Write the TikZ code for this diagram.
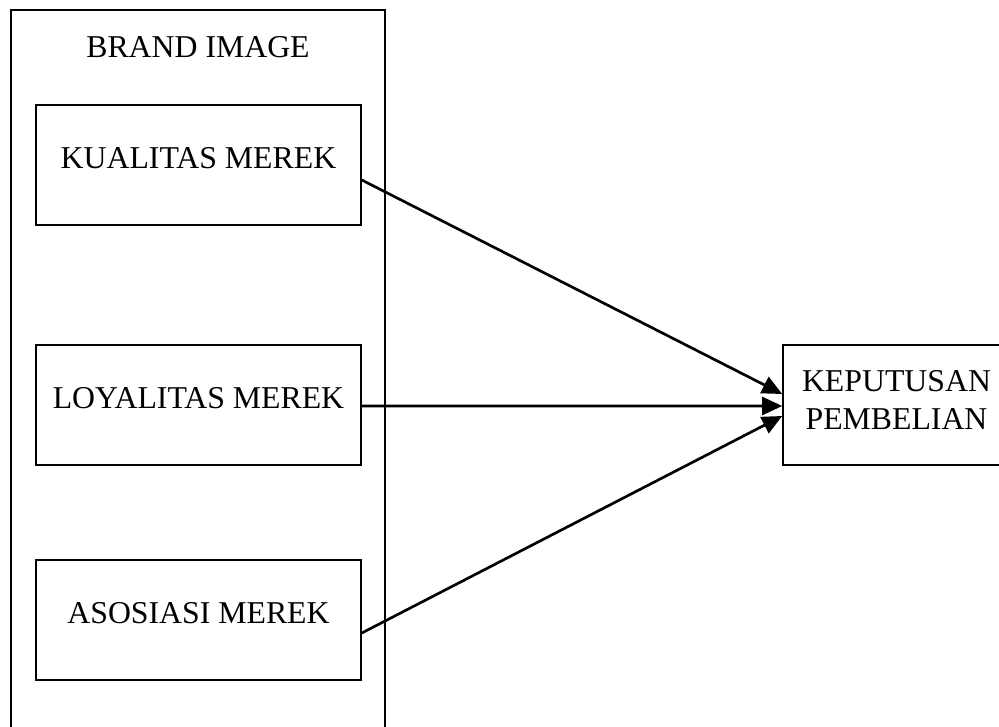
\documentclass[tikz,border=0pt]{standalone}
\usepackage{fontspec}
\setmainfont{Liberation Serif}
\usetikzlibrary{arrows.meta}

\begin{document}
\begin{tikzpicture}
  [x=0.025cm,y=-0.025cm,every node/.style={draw,line width=1.1pt,inner sep=0pt,
   font=\fontsize{22.6}{26.5}\selectfont}]
  \useasboundingbox (0,0) rectangle (999,726);
  \clip (0,0) rectangle (999,726);

  \node[anchor=base,minimum width=9.35cm,text height=1.175cm,text depth=17.5cm] (brand) at (198,57) {BRAND IMAGE};
  \node[anchor=base,minimum width=8.125cm,text height=1.575cm,text depth=1.425cm] (kualitas) at (198.5,168) {KUALITAS MEREK};
  \node[anchor=base,minimum width=8.125cm,text height=1.575cm,text depth=1.425cm] (loyalitas) at (198.5,408) {LOYALITAS MEREK};
  \node[anchor=base,minimum width=8.125cm,text height=1.575cm,text depth=1.425cm] (asosiasi) at (198.5,623) {ASOSIASI MEREK};
  \node[align=center,anchor=base,minimum width=5.675cm,text height=2.1cm,text depth=0.9cm] (keputusan) at (896.5,429) {KEPUTUSAN\\PEMBELIAN};

  \foreach \from/\fy/\ty in {kualitas/12/-11,loyalitas/-2/1,asosiasi/10/11}
    \draw[line width=1.9pt,-{Triangle[length=0.5cm,width=0.45cm]}]
      ([shift={(0,\fy)}]\from.base east) -- ([shift={(0,\ty)}]keputusan.west);

\end{tikzpicture}
\end{document}
